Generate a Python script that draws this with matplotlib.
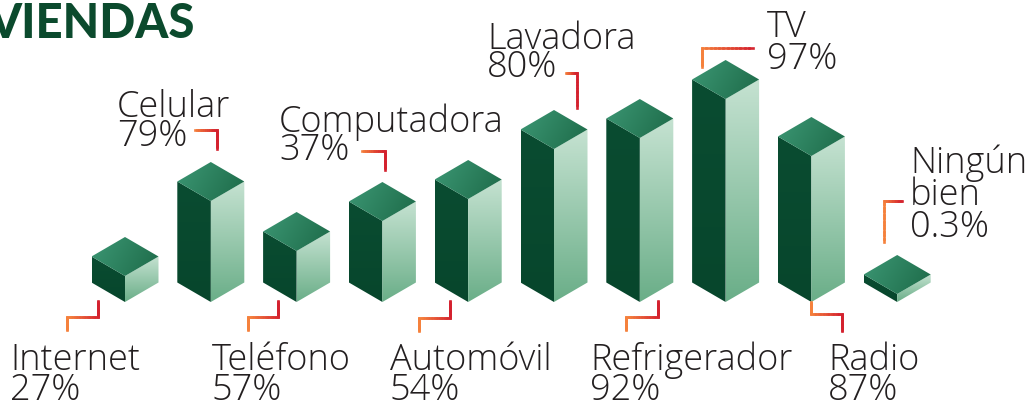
import numpy as np
import matplotlib
matplotlib.use('Agg')
import matplotlib.pyplot as plt
from matplotlib.patches import Polygon
from matplotlib.collections import LineCollection
from matplotlib.colors import to_rgb

# ---------------- data ----------------
categories = ['Internet', 'Celular', 'Teléfono', 'Computadora', 'Automóvil',
              'Lavadora', 'Refrigerador', 'TV', 'Radio', 'Ningún\nbien']
values = [27, 79, 57, 37, 54, 80, 92, 97, 87, 0.3]
# drawn height of each box as it appears in the graphic
bar_heights = [26, 101, 51, 81, 103, 153, 164, 203, 146, 8]
title_text = 'VIENDAS'

# ---------------- layout ----------------
W, H = 1036, 402
fig = plt.figure(figsize=(W / 100, H / 100), dpi=100)
ax = fig.add_axes([0, 0, 1, 1])
ax.axis('off')

x_first, x_step = 125, 85.8
base_y = 303
half_w, half_d = 33.5, 19.5

LEFT = '#07462c'
TOP_L, TOP_R = '#3c9774', '#1d6a48'
RIGHT_T, RIGHT_B = '#c5e2d1', '#6aae88'
TXT = '#231f20'
ORANGE, RED = '#f5813c', '#d4212e'
FONT = 'Open Sans'


def grad_fill(xy, c1, c2, mode):
    xy = np.asarray(xy, float)
    patch = Polygon(xy, closed=True, facecolor='none', edgecolor='none')
    ax.add_patch(patch)
    x0, x1 = xy[:, 0].min(), xy[:, 0].max()
    y0, y1 = xy[:, 1].min(), xy[:, 1].max()
    n = 80
    yy, xx = np.mgrid[0:1:n * 1j, 0:1:n * 1j]
    if mode == 'v':
        t = yy
    elif mode == 'diag':
        t = 0.75 * xx + 0.25 * yy
    else:
        t = xx
    a, b = np.array(to_rgb(c1)), np.array(to_rgb(c2))
    img = a[None, None, :] * (1 - t[..., None]) + b[None, None, :] * t[..., None]
    im = ax.imshow(img, extent=(x0, x1, y1, y0), origin='upper',
                   aspect='auto', interpolation='bilinear', zorder=2)
    im.set_clip_path(patch)


for i, h in enumerate(bar_heights):
    c = x_first + i * x_step
    b = base_y
    left = [(c - half_w, b - half_d), (c, b), (c, b - h), (c - half_w, b - h - half_d)]
    right = [(c, b), (c + half_w, b - half_d), (c + half_w, b - h - half_d), (c, b - h)]
    top = [(c, b - h), (c - half_w, b - h - half_d), (c, b - h - 2 * half_d),
           (c + half_w, b - h - half_d)]
    grad_fill(left, '#0a4c31', LEFT, 'v')
    grad_fill(right, RIGHT_T, RIGHT_B, 'v')
    grad_fill(top, TOP_L, TOP_R, 'diag')

# label placement: (text x, first baseline, line gap, connector path)
label_layout = [
    (10, 370, 30, [(98, 302), (98, 318), (67, 318), (67, 331)]),
    (117, 117, 29, [(195, 131), (217, 131), (217, 150)]),
    (212, 370, 30, [(278, 302), (278, 318), (248, 318), (248, 331)]),
    (279, 132, 28, [(362, 152), (385, 152), (385, 171)]),
    (390, 370, 30, [(450, 302), (450, 319), (419, 319), (419, 332)]),
    (487, 49, 28, [(566, 74), (577, 74), (577, 109)]),
    (590, 370, 30, [(658, 302), (658, 318), (626, 318), (626, 331)]),
    (767, 37, 32, [(702, 68), (702, 49), (753, 49)]),
    (828, 370, 30, [(811, 303), (811, 315), (842, 315), (842, 332)]),
    (910, 173, 32, [(884, 243), (884, 202), (902, 202)]),
]

o, r = np.array(to_rgb(ORANGE)), np.array(to_rgb(RED))
for cat, val, (tx, ty, gap, path) in zip(categories, values, label_layout):
    lines = cat.split('\n') + ['{:g}%'.format(val)]
    for k, s in enumerate(lines):
        ax.text(tx, ty + k * gap, s, fontsize=26, color=TXT, family=FONT,
                fontweight='light', ha='left', va='baseline', zorder=3)
    pts = np.array(path, float)
    xmin, xmax = pts[:, 0].min(), pts[:, 0].max()
    segs, cols = [], []
    for p, q in zip(pts[:-1], pts[1:]):
        m = 12
        ts = np.linspace(0, 1, m + 1)
        sub = p[None, :] * (1 - ts[:, None]) + q[None, :] * ts[:, None]
        for a_, b_ in zip(sub[:-1], sub[1:]):
            segs.append([a_, b_])
            f = ((a_[0] + b_[0]) / 2 - xmin) / max(xmax - xmin, 1)
            cols.append(o * (1 - f) + r * f)
    ax.add_collection(LineCollection(segs, colors=cols, linewidths=1.9,
                                     capstyle='projecting', joinstyle='miter',
                                     antialiased=True, zorder=3))

ax.text(195, 2, title_text, fontsize=34, color='#0b4a2d', family='Lato',
        fontweight='black', ha='right', va='top', zorder=3)

ax.set_xlim(0, W)
ax.set_ylim(H, 0)
fig.savefig('out.png', dpi=100, facecolor='white')
